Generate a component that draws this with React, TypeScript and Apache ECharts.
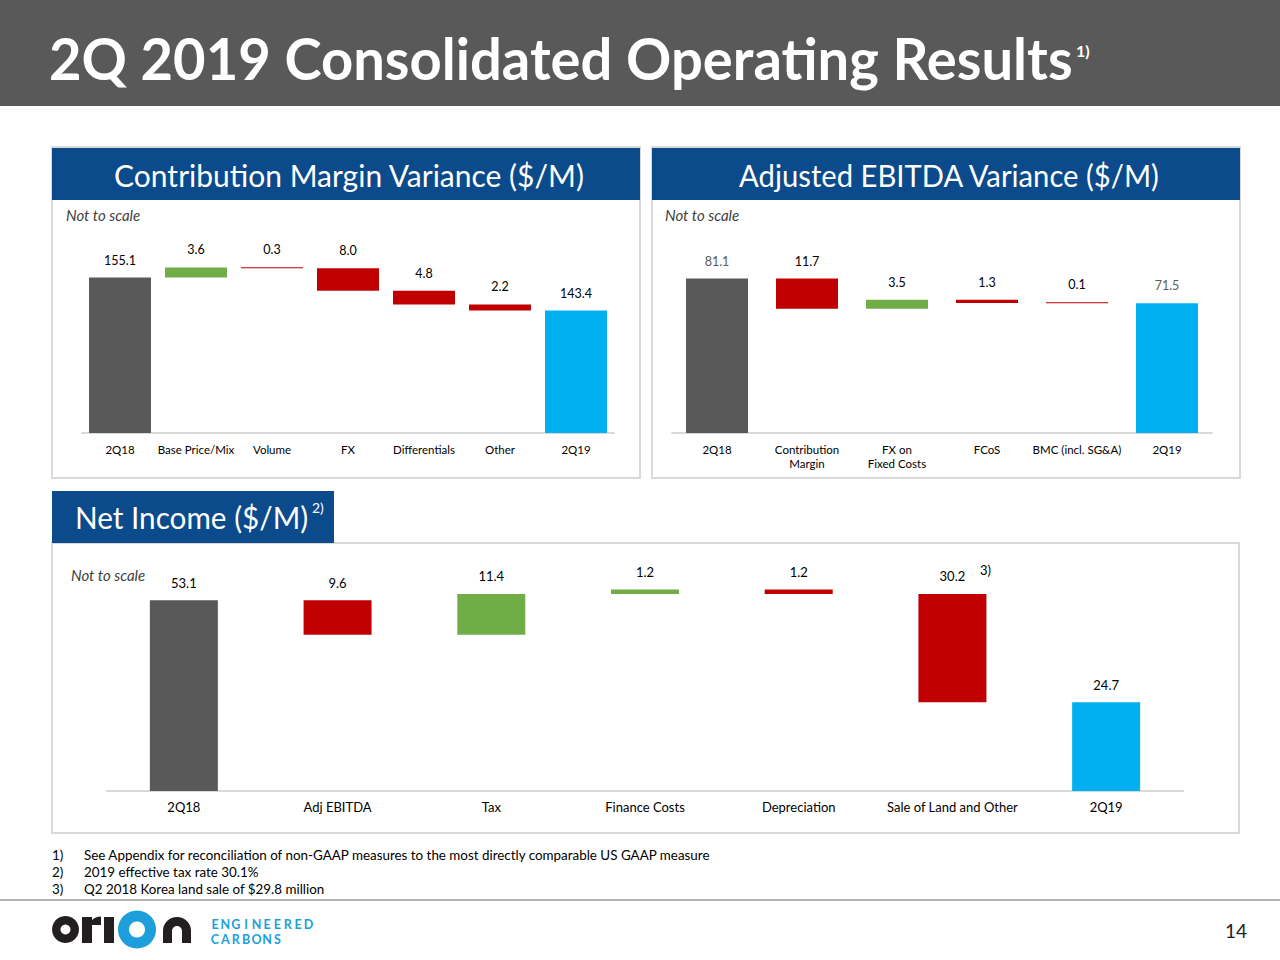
import React, { useEffect, useRef } from "react";
import * as echarts from "echarts";

// ---------- data ----------
const cmCategories = ["2Q18", "Base Price/Mix", "Volume", "FX", "Differentials", "Other", "2Q19"];
const cmValues = [155.1, 3.6, -0.3, -8.0, -4.8, -2.2, 143.4];
const cmIsTotal = [true, false, false, false, false, false, true];

const ebCategories = ["2Q18", "Contribution\nMargin", "FX on\nFixed Costs", "FCoS", "BMC (incl. SG&A)", "2Q19"];
const ebValues = [81.1, -11.7, 3.5, -1.3, -0.1, 71.5];
const ebIsTotal = [true, false, false, false, false, true];

const niCategories = ["2Q18", "Adj EBITDA", "Tax", "Finance Costs", "Depreciation", "Sale of Land and Other", "2Q19"];
const niValues = [53.1, -9.6, 11.4, 1.2, -1.2, -30.2, 24.7];
const niIsTotal = [true, false, false, false, false, false, true];

const pageTitle = "2Q 2019 Consolidated Operating Results";
const cmTitle = "Contribution Margin Variance ($/M)";
const ebTitle = "Adjusted EBITDA Variance ($/M)";
const niTitle = "Net Income ($/M)";
const footnoteMarks = ["1)", "2)", "3)"];
const footnoteTexts = [
  "See Appendix for reconciliation of non-GAAP measures to the most directly comparable US GAAP measure",
  "2019 effective tax rate 30.1%",
  "Q2 2018 Korea land sale of $29.8 million",
];
const logoLine1 = "ENGINEERED";
const logoLine2 = "CARBONS";
const pageNumber = "14";

// ---------- styles ----------
const FONT = "Lato, 'Open Sans', sans-serif";
const GRAY = "#595959";
const CYAN = "#00b0f0";
const GREEN = "#70ad47";
const RED = "#c00000";
const BLUE = "#0b4a8b";
const LOGO_CYAN = "#1c9fdb";

function waterfall(values: number[], isTotal: boolean[]) {
  let run = 0;
  const base: number[] = [];
  const delta: number[] = [];
  const colors: string[] = [];
  values.forEach((v, i) => {
    if (isTotal[i]) {
      base.push(0);
      delta.push(v);
      run = v;
      colors.push(i === 0 ? GRAY : CYAN);
    } else {
      const next = run + v;
      base.push(Math.min(run, next));
      delta.push(Math.abs(v));
      colors.push(v >= 0 ? GREEN : RED);
      run = next;
    }
  });
  return { base, delta, colors };
}

function buildSeries(
  idx: number,
  values: number[],
  isTotal: boolean[],
  barWidth: number,
  totalLabelColor: string,
  labelSize: number
) {
  const wf = waterfall(values, isTotal);
  const stack = "wf" + idx;
  return [
    {
      type: "bar",
      xAxisIndex: idx,
      yAxisIndex: idx,
      stack,
      barWidth,
      clip: true,
      silent: true,
      itemStyle: { color: "rgba(0,0,0,0)" },
      label: { show: false },
      data: wf.base,
    },
    {
      type: "bar",
      xAxisIndex: idx,
      yAxisIndex: idx,
      stack,
      barWidth,
      clip: true,
      barMinHeight: 1,
      data: wf.delta.map((d, i) => ({
        value: d,
        itemStyle: { color: wf.colors[i] },
        label: { color: isTotal[i] ? totalLabelColor : "#000" },
      })),
      label: {
        show: true,
        position: "top",
        distance: 11,
        fontSize: labelSize,
        fontFamily: FONT,
        color: "#000",
        formatter: (p: any) => Math.abs(values[p.dataIndex]).toFixed(1),
      },
    },
  ];
}

function xAxisFor(idx: number, data: string[], fontSize: number) {
  return {
    gridIndex: idx,
    type: "category",
    data,
    axisLine: { show: true, lineStyle: { color: "#d9d9d9", width: 2 } },
    axisTick: { show: false },
    axisLabel: {
      interval: 0,
      color: "#000",
      fontSize,
      fontFamily: FONT,
      lineHeight: 14,
      margin: 9,
    },
    splitLine: { show: false },
  };
}

function yAxisFor(idx: number, min: number, max: number) {
  return { gridIndex: idx, type: "value", min, max, show: false, splitLine: { show: false } };
}

function text(x: number, y: number, t: string, s: any = {}, extra: any = {}) {
  return {
    type: "text",
    x,
    y,
    silent: true,
    ...extra,
    style: {
      text: t,
      fill: "#000",
      fontFamily: FONT,
      fontSize: 12,
      align: "left",
      verticalAlign: "middle",
      textAlign: "left",
      textVerticalAlign: "middle",
      ...s,
      ...(s.align ? { textAlign: s.align } : {}),
    },
  };
}

function buildGraphics() {
  const g: any[] = [];
  // header
  g.push({ type: "rect", shape: { x: 0, y: 0, width: 1280, height: 106 }, style: { fill: GRAY }, silent: true });
  g.push(text(49, 58, pageTitle, { fill: "#fff", fontSize: 57, fontWeight: "bold" }, { scaleX: 0.985 }));
  g.push(text(1076, 50, "1)", { fill: "#fff", fontSize: 16, fontWeight: "bold" }));

  // panel 1
  g.push({ type: "rect", shape: { x: 52, y: 147, width: 588, height: 331 }, style: { fill: "none", stroke: "#d9d9d9", lineWidth: 2 }, silent: true });
  g.push({ type: "rect", shape: { x: 52, y: 148, width: 588, height: 52 }, style: { fill: BLUE }, silent: true });
  g.push(text(349, 175, cmTitle, { fill: "#fff", fontSize: 30, align: "center" }, { scaleX: 1.0 }));
  g.push(text(66, 215, "Not to scale", { fill: "#404040", fontSize: 15, fontStyle: "italic" }));

  // panel 2
  g.push({ type: "rect", shape: { x: 652, y: 147, width: 588, height: 331 }, style: { fill: "none", stroke: "#d9d9d9", lineWidth: 2 }, silent: true });
  g.push({ type: "rect", shape: { x: 652, y: 148, width: 588, height: 52 }, style: { fill: BLUE }, silent: true });
  g.push(text(949, 175, ebTitle, { fill: "#fff", fontSize: 30, align: "center" }, { scaleX: 0.975 }));
  g.push(text(665, 215, "Not to scale", { fill: "#404040", fontSize: 15, fontStyle: "italic" }));

  // panel 3
  g.push({ type: "rect", shape: { x: 52, y: 543, width: 1187, height: 290 }, style: { fill: "none", stroke: "#d9d9d9", lineWidth: 2 }, silent: true });
  g.push({ type: "rect", shape: { x: 52, y: 491, width: 282, height: 52 }, style: { fill: BLUE }, silent: true });
  g.push(text(75, 517, niTitle, { fill: "#fff", fontSize: 30 }, { scaleX: 0.99 }));
  g.push(text(312, 507, "2)", { fill: "#fff", fontSize: 14 }));
  g.push(text(71, 575, "Not to scale", { fill: "#404040", fontSize: 15, fontStyle: "italic" }));
  g.push(text(980, 570, "3)", { fill: "#000", fontSize: 13 }));

  // footnotes
  footnoteMarks.forEach((m, i) => {
    g.push(text(52, 855 + i * 17, m, { fontSize: 13.4 }));
    g.push(text(84, 855 + i * 17, footnoteTexts[i], { fontSize: 13.4 }));
  });

  // bottom rule
  g.push({ type: "line", shape: { x1: 0, y1: 900, x2: 1280, y2: 900 }, style: { stroke: "#6b6b6b", lineWidth: 1.2 }, silent: true });

  // logo: o r i o n
  const K = "#231f20";
  g.push({ type: "ring", shape: { cx: 65.5, cy: 929.5, r: 13.5, r0: 5 }, style: { fill: K }, silent: true });
  g.push({ type: "rect", shape: { x: 82, y: 917, width: 10, height: 26 }, style: { fill: K }, silent: true });
  g.push({ type: "sector", shape: { cx: 101, cy: 930, r: 13.5, r0: 0, startAngle: Math.PI, endAngle: Math.PI * 1.5 }, style: { fill: K }, silent: true });
  g.push({ type: "sector", shape: { cx: 101, cy: 930, r: 4.5, r0: 0, startAngle: Math.PI, endAngle: Math.PI * 1.5 }, style: { fill: "#fff" }, silent: true });
  g.push({ type: "rect", shape: { x: 92, y: 925, width: 10, height: 18 }, style: { fill: "#fff" }, silent: true });
  g.push({ type: "rect", shape: { x: 104, y: 917, width: 10, height: 26 }, style: { fill: K }, silent: true });
  g.push({ type: "ring", shape: { cx: 137, cy: 929.5, r: 19, r0: 8 }, style: { fill: LOGO_CYAN }, silent: true });
  g.push({ type: "sector", shape: { cx: 177, cy: 931, r: 14, r0: 5, startAngle: Math.PI, endAngle: Math.PI * 2 }, style: { fill: K }, silent: true });
  g.push({ type: "rect", shape: { x: 163, y: 930, width: 9, height: 13 }, style: { fill: K }, silent: true });
  g.push({ type: "rect", shape: { x: 182, y: 930, width: 9, height: 13 }, style: { fill: K }, silent: true });

  const step = 10.4;
  logoLine1.split("").forEach((c, i) => {
    g.push(text(215 + i * step, 924, c, { fill: LOGO_CYAN, fontSize: 12.5, fontWeight: "bold", align: "center" }));
  });
  logoLine2.split("").forEach((c, i) => {
    g.push(text(215 + i * step, 939, c, { fill: LOGO_CYAN, fontSize: 12.5, fontWeight: "bold", align: "center" }));
  });

  g.push(text(1236, 930, pageNumber, { fill: "#222", fontSize: 19, align: "center" }));
  return g;
}

function buildOption() {
  return {
    animation: false,
    backgroundColor: "#fff",
    grid: [
      { left: 82, width: 532, top: 221.5, height: 211.5 },
      { left: 672, width: 540, top: 230, height: 203 },
      { left: 107, width: 1076, top: 568.4, height: 222.6 },
    ],
    xAxis: [
      xAxisFor(0, cmCategories, 11.5),
      xAxisFor(1, ebCategories, 11.5),
      xAxisFor(2, niCategories, 13),
    ],
    yAxis: [yAxisFor(0, 100, 175), yAxisFor(1, 21, 100), yAxisFor(2, 0, 62)],
    series: [
      ...buildSeries(0, cmValues, cmIsTotal, 62, "#000", 12.5),
      ...buildSeries(1, ebValues, ebIsTotal, 62, "#595959", 12.5),
      ...buildSeries(2, niValues, niIsTotal, 68, "#000", 13),
    ],
    graphic: { elements: buildGraphics() },
  };
}

export default function App() {
  const ref = useRef<HTMLDivElement>(null);
  useEffect(() => {
    const chart = echarts.init(ref.current!, null, { renderer: "svg" });
    chart.setOption(buildOption() as any);
    return () => chart.dispose();
  }, []);
  return (
    <div
      ref={ref}
      style={{ position: "absolute", left: 0, top: 0, width: 1280, height: 960, background: "#fff" }}
    />
  );
}
